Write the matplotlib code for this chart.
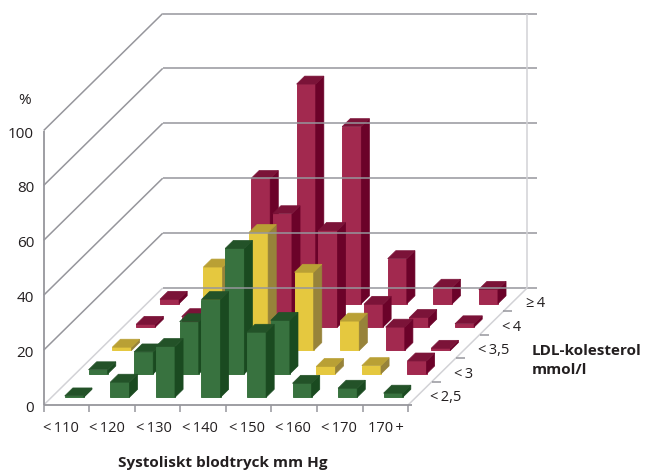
import matplotlib
matplotlib.use("Agg")
import matplotlib.pyplot as plt

# ── data ──────────────────────────────────────────────────────────────────────
sbp_labels = ["<\u2009110", "<\u2009120", "<\u2009130", "<\u2009140",
              "<\u2009150", "<\u2009160", "<\u2009170", "170\u2009+"]
ldl_labels = ["<\u20092,5", "<\u20093", "<\u20093,5", "<\u20094", "≥\u20094"]
y_ticks = [0, 20, 40, 60, 80, 100]

# one list per LDL row, front to back; 0 = no visible bar
ldl_25 = [0.5, 5.5, 18.5, 35.6, 23.7, 5.1, 3.3, 1.5]
ldl_3 = [1.5, 8.0, 19.0, 45.7, 19.5, 2.7, 3.0, 4.7]
ldl_35 = [1.2, 0, 30.4, 43.0, 28.5, 10.7, 8.5, 0.8]
ldl_4 = [1.0, 3.8, 0, 41.3, 35.2, 8.3, 3.5, 1.2]
ldl_ge4 = [1.6, 0, 45.6, 80.0, 64.5, 16.4, 6.0, 5.2]
values = [ldl_25, ldl_3, ldl_35, ldl_4, ldl_ge4]

risk = ["gggggggg", "gggggyyr", "yyyyyyrr", "rrrrrrrr", "rrrrrrrr"]

# ── palette ───────────────────────────────────────────────────────────────────
FACES = {
    "g": ("#38723f", "#1a4a20", "#235228"),
    "y": ("#e5c83f", "#97833a", "#b9a035"),
    "r": ("#a2294f", "#6b0229", "#7b1338"),
}
GRID = "#96969c"
GRID_LT = "#d2d2d6"
TEXT = "#231f20"

plt.rcParams["font.family"] = ["Open Sans", "DejaVu Sans"]

# ── projection (pixels of the 647x472 picture) ────────────────────────────────
X0, Y0 = 43.7, 405.0
COL_W, ROW_DX, ROW_DY = 45.55, 23.8, 23.4
PCT = 2.745
N_COL, N_ROW = len(sbp_labels), len(ldl_labels)


def proj(col, row, val=0):
    return X0 + col * COL_W + row * ROW_DX, Y0 - row * ROW_DY - val * PCT


fig = plt.figure(figsize=(6.47, 4.72), dpi=100)
ax = fig.add_axes([0, 0, 1, 1])
ax.set_xlim(0, 647)
ax.set_ylim(472, 0)
ax.axis("off")


def line(p, q, color=GRID, lw=1.1):
    ax.plot([p[0], q[0]], [p[1], q[1]], color=color, lw=lw, solid_capstyle="butt")


# walls and grid
for v in y_ticks:
    front = proj(0, 0, v)
    back = proj(0, N_ROW, v)
    line(front, back, GRID_LT if v == 0 else GRID)
    line(back, (537, back[1]))
line(proj(0, 0), proj(0, 0, 100), lw=1.3)
line(proj(N_COL, N_ROW), proj(N_COL, N_ROW, 100), GRID_LT)
line(proj(N_COL, 0), proj(N_COL, N_ROW), GRID_LT)
line(proj(0, 0), (412, Y0), lw=1.3)
for c in range(N_COL + 1):
    x, y = proj(c, 0)
    line((x, y), (x, y + 7), lw=1.1)
for r in range(1, N_ROW):
    x, y = proj(N_COL, r)
    line((x, y), (x + 9, y), lw=1.1)


def bar(col, row, val, kind):
    front, side, top = FACES[kind]
    x0, x1 = col + 0.29, col + 0.71
    r0, r1 = row + 0.33, row + 0.67
    ax.fill(*zip(proj(x0, r0), proj(x1, r0), proj(x1, r0, val), proj(x0, r0, val)),
            fc=front, ec=front, lw=0.7)
    ax.fill(*zip(proj(x1, r0), proj(x1, r1), proj(x1, r1, val), proj(x1, r0, val)),
            fc=side, ec=side, lw=0.5)
    ax.fill(*zip(proj(x0, r0, val), proj(x1, r0, val), proj(x1, r1, val), proj(x0, r1, val)),
            fc=top, ec=top, lw=0.5)


# back to front so nearer bars cover the ones behind
for r in range(N_ROW - 1, -1, -1):
    for c in range(N_COL):
        if values[r][c] > 0:
            bar(c, r, values[r][c], risk[r][c])

# text
for v in y_ticks:
    ax.text(34, proj(0, 0, v)[1] + 3.5, str(v), ha="right", va="center",
            fontsize=11, color=TEXT)
ax.text(25, 100, "%", ha="center", va="center", fontsize=11, color=TEXT)
for i, lab in enumerate(sbp_labels):
    ax.text(61 + 46.4 * i, 428, lab, ha="center", va="center", fontsize=10.5, color=TEXT)
for r, lab in enumerate(ldl_labels):
    ax.text(430 + 24 * r, 397.5 - 23.4 * r, lab, ha="left", va="center", fontsize=10.5, color=TEXT)
ax.text(222.5, 463.5, "Systoliskt blodtryck mm Hg", ha="center", va="center",
        fontsize=11, fontweight="bold", color=TEXT)
ax.text(532, 351, "LDL-kolesterol", ha="left", va="center",
        fontsize=11, fontweight="bold", color=TEXT)
ax.text(532, 370.5, "mmol/l", ha="left", va="center",
        fontsize=11, fontweight="bold", color=TEXT)

fig.savefig("out.png", dpi=100)
